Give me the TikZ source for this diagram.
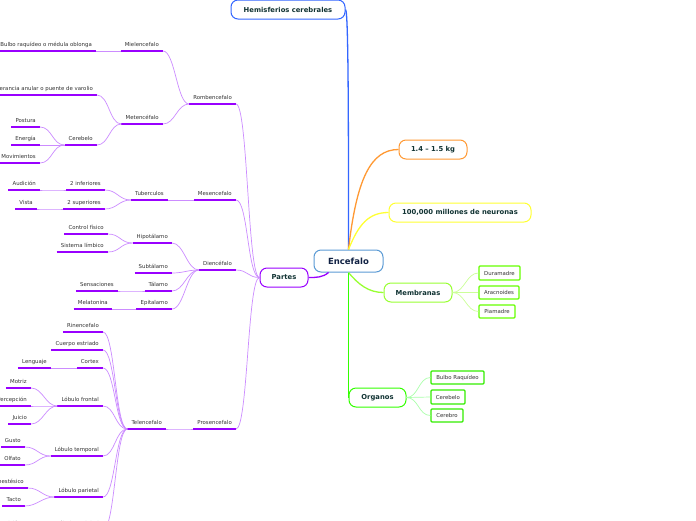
\documentclass[tikz,border=0pt]{standalone}
\usepackage{fontspec}
\setmainfont{DejaVu Sans}
\definecolor{mmpurple}{RGB}{153,0,255}
\definecolor{mmlilac}{RGB}{204,140,255}
\definecolor{mmblue}{RGB}{51,102,255}
\definecolor{mmsky}{RGB}{91,155,213}
\definecolor{mmorange}{RGB}{255,153,51}
\definecolor{mmyellow}{RGB}{255,255,51}
\definecolor{mmlime}{RGB}{153,255,51}
\definecolor{mmlimeleaf}{RGB}{102,255,0}
\definecolor{mmlimelink}{RGB}{204,255,153}
\definecolor{mmgreen}{RGB}{51,255,0}
\definecolor{mmgreenleaf}{RGB}{51,238,0}
\definecolor{mmgreenlink}{RGB}{170,255,170}
\definecolor{mmdark}{RGB}{17,51,51}
\definecolor{mmnavy}{RGB}{17,34,68}
\definecolor{txtgray}{RGB}{51,51,51}
\usetikzlibrary{arrows.meta,positioning,calc}
\tikzset{
  uline/.style={draw=mmpurple, line width=1.5pt},
  topic/.style={anchor=south east, font=\fontsize{5.4}{6.5}\selectfont, text=txtgray,
    inner xsep=4pt, inner ysep=3pt, text height=3.9pt, text depth=1.5pt,
    append after command={(\tikzlastnode.south west) edge[uline] (\tikzlastnode.south east)}},
  idea/.style={draw, rounded corners=7pt, line width=1pt, fill=white, text=mmdark,
    font=\bfseries\fontsize{6.8}{8}\selectfont, minimum height=19pt, inner xsep=0pt},
  leaf/.style={draw, rounded corners=1pt, line width=1.2pt, fill=white, text=txtgray,
    font=\fontsize{5.4}{6.5}\selectfont, minimum height=13pt, inner xsep=0pt},
  link/.style={draw=mmlilac, line width=0.7pt},
  mainlink/.style={line width=1.3pt},
  branch/.style={to path={.. controls +(-#1,0) and +(#1,0) .. (\tikztotarget)}},
  branch/.default=12
}
\begin{document}
\begin{tikzpicture}[x=1pt,y=-1pt]
  \useasboundingbox (0,0) rectangle (696,520);
  \fill[white] (0,0) rectangle (696,520);
  \clip (0,0) rectangle (696,520);

  % Central topic and main ideas
  \node[idea, draw=mmsky, text=mmnavy, minimum width=69pt, minimum height=22pt,
    font=\bfseries\fontsize{8.5}{10}\selectfont] (enc) at (348.5,261) {Encefalo};
  \node[idea, draw=mmblue, minimum width=114pt] (hemi) at (288,9.5) {Hemisferios cerebrales};
  \node[idea, draw=mmorange, minimum width=68pt] (kg) at (433,149.5) {1.4 -- 1.5 kg};
  \node[idea, draw=mmyellow, minimum width=142pt] (neu) at (460,212.5) {100,000 millones de neuronas};
  \node[idea, draw=mmlime, minimum width=68pt] (mem) at (418,292.5) {Membranas};
  \node[idea, draw=mmgreen, minimum width=57pt] (org) at (377.5,397.5) {Organos};
  \node[idea, draw=mmpurple, minimum width=48pt] (partes) at (284,277.5) {Partes};

  % Membranas and Organos
  \node[leaf, draw=mmlimeleaf, minimum width=41pt, minimum height=14pt] (dura) at (499.5,273) {Duramadre};
  \node[leaf, draw=mmlimeleaf, minimum width=40pt] (arac) at (499,292.5) {Aracnoides};
  \node[leaf, draw=mmlimeleaf, minimum width=36pt] (pia) at (497,311.5) {Piamadre};
  \node[leaf, draw=mmgreenleaf, minimum width=53pt] (braq) at (457.5,377.5) {Bulbo Raquídeo};
  \node[leaf, draw=mmgreenleaf, minimum width=34pt, minimum height=14pt] (cbo) at (448,397) {Cerebelo};
  \node[leaf, draw=mmgreenleaf, minimum width=32pt] (cer) at (447,415.5) {Cerebro};

  % Partes
  \node[topic] (rom) at (236,104) {Rombencefalo};
  \node[topic] (mes) at (236,200) {Mesencefalo};
  \node[topic] (die) at (236,270) {Diencéfalo};
  \node[topic] (pro) at (236,429) {Prosencefalo};

  % Rombencefalo
  \node[topic] (miel) at (163,51) {Mielencefalo};
  \node[topic] (met) at (163,124) {Metencéfalo};
  \node[topic] (bulbo) at (96,51) {Bulbo raquídeo o médula oblonga};
  \node[topic] (prot) at (97,95) {Protuberancia anular o puente de varolio};
  \node[topic] (cbl) at (97,145) {Cerebelo};
  \node[topic] (post) at (40,127) {Postura};
  \node[topic] (ener) at (40,145) {Energía};
  \node[topic] (movi) at (40,163) {Movimientos};

  % Mesencefalo
  \node[topic] (tub) at (168,200) {Tuberculos};
  \node[topic] (inf) at (105,190) {2 inferiores};
  \node[topic] (sup) at (105,209) {2 superiores};
  \node[topic] (aud) at (40,190) {Audición};
  \node[topic] (vis) at (37,209) {Vista};

  % Diencefalo
  \node[topic] (hipo) at (172,243) {Hipotálamo};
  \node[topic] (subt) at (172,273) {Subtálamo};
  \node[topic] (tala) at (172,291) {Tálamo};
  \node[topic] (epit) at (172,309) {Epitalamo};
  \node[topic] (ctrl) at (108,234) {Control físico};
  \node[topic] (limb) at (108,252) {Sistema límbico};
  \node[topic] (sens) at (118,291) {Sensaciones};
  \node[topic] (mela) at (112,309) {Melatonina};

  % Prosencefalo
  \node[topic] (tel) at (166,429) {Telencefalo};
  \node[topic] (rin) at (103,332) {Rinencefalo};
  \node[topic] (cue) at (103,350) {Cuerpo estriado};
  \node[topic] (cor) at (103,368) {Cortex};
  \node[topic] (fro) at (103,406) {Lóbulo frontal};
  \node[topic] (tem) at (103,456) {Lóbulo temporal};
  \node[topic] (par) at (103,497) {Lóbulo parietal};
  \node[topic] (occ) at (103,530) {Lóbulo occipital};
  \node[topic] (len) at (51,368) {Lenguaje};
  \node[topic] (mot) at (31,388) {Motriz};
  \node[topic] (per) at (31,406) {Percepción};
  \node[topic] (jui) at (31,424) {Juicio};
  \node[topic] (gus) at (25,447) {Gusto};
  \node[topic] (olf) at (25,465) {Olfato};
  \node[topic] (cin) at (28,488) {Cinestésico};
  \node[topic] (tac) at (25,506) {Tacto};
  \node[topic] (visn) at (25,530) {Visión};

  % Connectors from the central topic
  \draw[mainlink, draw=mmblue] (enc.north) .. controls +(0,-120) and +(3,0) .. (hemi.east);
  \draw[mainlink, draw=mmorange] (enc.north) .. controls +(8,-70) and +(-28,0) .. (kg.west);
  \draw[mainlink, draw=mmyellow] (enc.north) .. controls +(10,-25) and +(-20,0) .. (neu.west);
  \draw[mainlink, draw=mmlime] (enc.south) .. controls +(10,12) and +(-15,0) .. (mem.west);
  \draw[mainlink, draw=mmgreen] (enc.south) -- (org.west);
  \draw[mainlink, draw=mmpurple] (enc.-150) .. controls +(-6,5) and +(8,0) .. (partes.east);

  % Membranas / Organos connectors
  \foreach \n in {dura,arac,pia}
    \draw[link, draw=mmlimelink] (mem.east) to[branch=-12] (\n.west);
  \foreach \n in {braq,cbo,cer}
    \draw[link, draw=mmgreenlink] (org.east) to[branch=-12] (\n.west);

  % Partes connectors
  \foreach \n in {rom,mes,die,pro}
    \draw[link] (partes.west) to[branch] (\n.south east);
  \foreach \n in {miel,met}
    \draw[link] (rom.south west) to[branch] (\n.south east);
  \draw[link] (miel.south west) to[branch] (bulbo.south east);
  \foreach \n in {prot,cbl}
    \draw[link] (met.south west) to[branch] (\n.south east);
  \foreach \n in {post,ener,movi}
    \draw[link] (cbl.south west) to[branch] (\n.south east);
  \draw[link] (mes.south west) to[branch] (tub.south east);
  \foreach \n in {inf,sup}
    \draw[link] (tub.south west) to[branch] (\n.south east);
  \draw[link] (inf.south west) to[branch] (aud.south east);
  \draw[link] (sup.south west) to[branch] (vis.south east);
  \foreach \n in {hipo,subt,tala,epit}
    \draw[link] (die.south west) to[branch] (\n.south east);
  \foreach \n in {ctrl,limb}
    \draw[link] (hipo.south west) to[branch] (\n.south east);
  \draw[link] (tala.south west) to[branch] (sens.south east);
  \draw[link] (epit.south west) to[branch] (mela.south east);
  \draw[link] (pro.south west) to[branch] (tel.south east);
  \foreach \n in {rin,cue,cor,fro,tem,par,occ}
    \draw[link] (tel.south west) to[branch] (\n.south east);
  \draw[link] (cor.south west) to[branch] (len.south east);
  \foreach \n in {mot,per,jui}
    \draw[link] (fro.south west) to[branch] (\n.south east);
  \foreach \n in {gus,olf}
    \draw[link] (tem.south west) to[branch] (\n.south east);
  \foreach \n in {cin,tac}
    \draw[link] (par.south west) to[branch] (\n.south east);
  \draw[link] (occ.south west) to[branch] (visn.south east);
\end{tikzpicture}
\end{document}
